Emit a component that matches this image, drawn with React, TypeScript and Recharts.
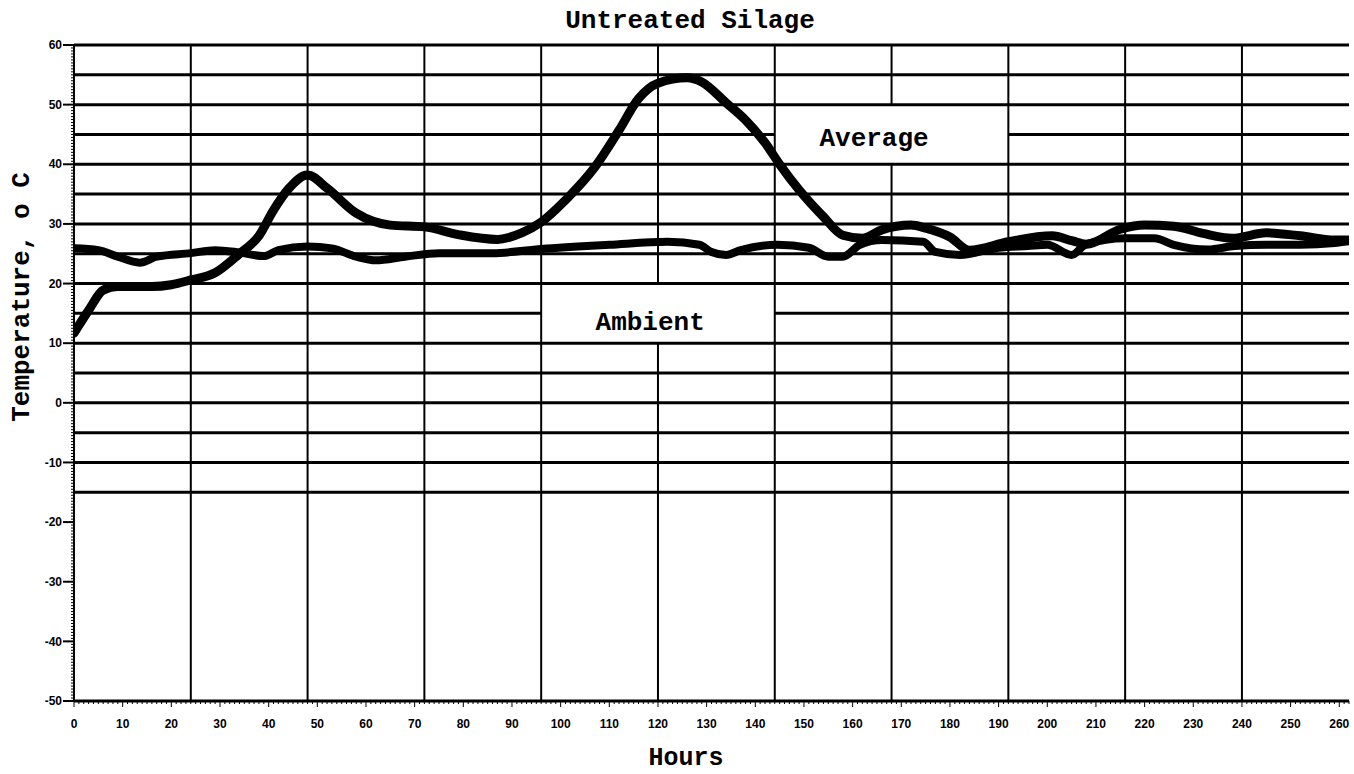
import React from 'react';
import { LineChart, Line, XAxis, YAxis, ReferenceLine, ReferenceArea } from 'recharts';

// ---- data ----
const averageHours = [0, 3, 6, 9, 16, 20, 24, 29, 34, 38, 41, 44, 48, 52, 58, 65, 72, 79, 87, 92, 96, 101, 107, 112, 116, 120, 126, 129, 134, 138, 142, 145, 149, 154, 158, 162, 166, 172, 175, 180, 184, 192, 201, 205, 208, 215, 220, 226, 232, 238, 245, 252, 259, 262];
const averageTemp = [11.7, 15.5, 18.9, 19.5, 19.5, 19.8, 20.6, 21.8, 25.0, 28.0, 32.3, 35.8, 38.2, 36.0, 31.8, 29.8, 29.5, 28.2, 27.4, 28.5, 30.3, 34.0, 39.5, 45.7, 51.0, 53.6, 54.5, 53.8, 50.3, 47.4, 43.6, 40.0, 35.7, 31.2, 28.1, 27.6, 29.0, 29.8, 29.3, 27.8, 25.6, 27.0, 28.0, 27.2, 26.6, 29.1, 29.8, 29.6, 28.4, 27.6, 28.5, 28.0, 27.3, 27.3];

const ambientHours = [0, 5, 9, 13.5, 17, 24, 29, 34, 39, 42, 48, 53, 58, 62, 68, 75, 86, 96, 110, 122, 128.5, 131, 134, 137, 144.5, 151, 155, 158, 161.5, 166, 174.5, 177, 182, 190, 196, 200, 205, 208, 216, 222, 226, 233, 238.5, 245, 252, 259, 262];
const ambientTemp = [25.9, 25.6, 24.5, 23.5, 24.5, 25.1, 25.6, 25.2, 24.6, 25.6, 26.2, 25.9, 24.5, 23.9, 24.5, 25.1, 25.1, 25.8, 26.5, 27.0, 26.5, 25.3, 24.8, 25.6, 26.5, 26.0, 24.5, 24.5, 26.5, 27.3, 27.0, 25.3, 24.8, 26.0, 26.3, 26.5, 24.8, 26.6, 27.6, 27.6, 26.5, 25.7, 26.3, 26.5, 26.5, 26.8, 27.1];

const xDomain = [0, 262];
const yDomain = [-50, 60];
const xMajorStep = 10;
const yMajorStep = 10;
const horizontalGridLevels = [60, 55, 50, 45, 40, 35, 30, 25, 20, 15, 10, 5, 0, -5, -10, -15];
const verticalGridHours = [24, 48, 72, 96, 120, 144, 168, 192, 216, 240];

// white boxes behind the in-plot labels (data units)
const labelBoxes = [
  { x1: 96, x2: 144, y1: 10, y2: 20 },
  { x1: 144, x2: 192, y1: 40, y2: 50 },
];
const seriesLabels = [
  { text: 'Average', hour: 164.4, temp: 44.6 },
  { text: 'Ambient', hour: 118.4, temp: 13.8 },
];

const TITLE = 'Untreated Silage';
const X_LABEL = 'Hours';
const Y_LABEL = 'Temperature, o C';

// ---- derived ----
const averageData = averageHours.map((h, i) => ({ h, t: averageTemp[i] }));
const ambientData = ambientHours.map((h, i) => ({ h, t: ambientTemp[i] }));

const xTicks: number[] = [];
for (let v = xDomain[0]; v <= xDomain[1]; v += 1) xTicks.push(v);
const yTicks: number[] = [];
for (let v = yDomain[0]; v <= yDomain[1]; v += 0.5) yTicks.push(v);

type Seg = [number, number];
function subtract(range: Seg, cuts: Seg[]): Seg[] {
  let out: Seg[] = [range];
  cuts.forEach(([a, b]) => {
    const next: Seg[] = [];
    out.forEach(([s, e]) => {
      if (b <= s || a >= e) { next.push([s, e]); return; }
      if (a > s) next.push([s, a]);
      if (b < e) next.push([b, e]);
    });
    out = next;
  });
  return out;
}

const hSegments: { v: number; a: number; b: number }[] = [];
horizontalGridLevels.forEach((v) => {
  const cuts = labelBoxes.filter((bx) => v > bx.y1 && v < bx.y2).map((bx) => [bx.x1, bx.x2] as Seg);
  subtract([xDomain[0], xDomain[1]], cuts).forEach(([a, b]) => hSegments.push({ v, a, b }));
});
const vSegments: { h: number; a: number; b: number }[] = [];
verticalGridHours.forEach((h) => {
  const cuts = labelBoxes.filter((bx) => h > bx.x1 && h < bx.x2).map((bx) => [bx.y1, bx.y2] as Seg);
  subtract([yDomain[0], yDomain[1]], cuts).forEach(([a, b]) => vSegments.push({ h, a, b }));
});

const tickFont = { fontFamily: '"Liberation Sans", Arial, sans-serif', fontWeight: 700, fontSize: 12 };
const monoFont = '"Liberation Mono", "Courier New", monospace';

const XTick = (props: any) => {
  const { x, y, payload } = props;
  const v = payload.value;
  const major = v % xMajorStep === 0;
  return (
    <g>
      <line x1={x} x2={x} y1={y} y2={y + (major ? 6 : 3)} stroke="#000" strokeWidth={1} />
      {major && (
        <text x={x} y={y + 27} textAnchor="middle" fill="#000" {...tickFont}>{v}</text>
      )}
    </g>
  );
};

const YTick = (props: any) => {
  const { x, y, payload } = props;
  const v = payload.value;
  const major = v % yMajorStep === 0;
  return (
    <g>
      <line x1={x - (major ? 11 : 3)} x2={x} y1={y} y2={y} stroke="#000" strokeWidth={major ? 2 : 1} />
      {major && (
        <text x={x - 12} y={y} dy="0.35em" textAnchor="end" fill="#000" {...tickFont}>{v}</text>
      )}
    </g>
  );
};

const YLabel = (props: any) => {
  const vb = props.viewBox || { x: 0, y: 0 };
  const cx = vb.x + 22;
  const cy = 297;
  return (
    <text
      x={cx}
      y={cy}
      transform={`rotate(-90, ${cx}, ${cy})`}
      textAnchor="middle"
      dominantBaseline="central"
      fontFamily={monoFont}
      fontWeight={700}
      fontSize={26}
      fill="#000"
    >
      {Y_LABEL}
    </text>
  );
};

const XLabel = (props: any) => {
  const vb = props.viewBox || { x: 0, y: 0, height: 0 };
  return (
    <text
      x={686}
      y={vb.y + 64}
      textAnchor="middle"
      fontFamily={monoFont}
      fontWeight={700}
      fontSize={25}
      fill="#000"
    >
      {X_LABEL}
    </text>
  );
};

export default function App() {
  return (
    <div style={{ position: 'absolute', left: 0, top: 0, width: 1354, height: 774, background: '#fff', overflow: 'hidden' }}>
      <div
        style={{
          position: 'absolute',
          left: 690,
          top: 7,
          transform: 'translateX(-50%)',
          fontFamily: monoFont,
          fontWeight: 700,
          fontSize: 26,
          whiteSpace: 'nowrap',
          color: '#000',
          lineHeight: '28px',
        }}
      >
        {TITLE}
      </div>
      <LineChart width={1354} height={774} margin={{ top: 45, right: 5, bottom: 0, left: 0 }}>
        <XAxis
          type="number"
          dataKey="h"
          domain={xDomain}
          ticks={xTicks}
          interval={0}
          tickSize={0}
          tickMargin={0}
          tick={<XTick />}
          height={73}
          axisLine={{ stroke: '#000', strokeWidth: 3 }}
          allowDataOverflow
          label={<XLabel />}
        />
        <YAxis
          type="number"
          domain={yDomain}
          ticks={yTicks}
          interval={0}
          tickSize={0}
          tickMargin={0}
          tick={<YTick />}
          width={74}
          axisLine={{ stroke: '#000', strokeWidth: 2 }}
          allowDataOverflow
          label={<YLabel />}
        />
        {hSegments.map((s, i) => (
          <ReferenceLine
            key={`h${i}`}
            segment={[{ x: s.a, y: s.v }, { x: s.b, y: s.v }]}
            stroke="#000"
            strokeWidth={3}
            ifOverflow="visible"
          />
        ))}
        {vSegments.map((s, i) => (
          <ReferenceLine
            key={`v${i}`}
            segment={[{ x: s.h, y: s.a }, { x: s.h, y: s.b }]}
            stroke="#000"
            strokeWidth={2}
            ifOverflow="visible"
          />
        ))}
        {seriesLabels.map((l) => (
          <ReferenceArea
            key={l.text}
            x1={l.hour - 10}
            x2={l.hour + 10}
            y1={l.temp - 2}
            y2={l.temp + 2}
            fill="#fff"
            fillOpacity={0}
            stroke="none"
            ifOverflow="visible"
            label={{ value: l.text, position: 'center', fill: '#000', fontFamily: monoFont, fontWeight: 700, fontSize: 26 }}
          />
        ))}
        <Line
          data={ambientData}
          dataKey="t"
          type="monotone"
          stroke="#000"
          strokeWidth={8}
          dot={false}
          strokeLinecap="round"
          strokeLinejoin="round"
          isAnimationActive={false}
        />
        <Line
          data={averageData}
          dataKey="t"
          type="monotone"
          stroke="#000"
          strokeWidth={9}
          dot={false}
          strokeLinecap="round"
          strokeLinejoin="round"
          isAnimationActive={false}
        />
      </LineChart>
    </div>
  );
}
